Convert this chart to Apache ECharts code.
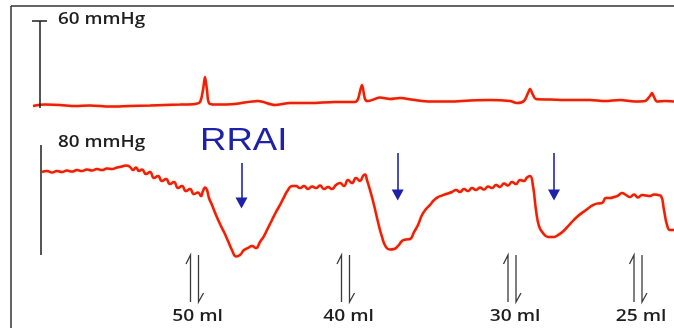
<!DOCTYPE html>
<html>
<head>
<meta charset="utf-8">
<script src="https://cdn.jsdelivr.net/npm/echarts@6/dist/echarts.min.js"></script>
<style>html,body{margin:0;padding:0;background:#fff}#c{width:674px;height:328px}</style>
</head>
<body>
<div id="c"></div>
<script>
// Time (s) and pressure (mmHg)
var topT = [22,34,49,64,79,99,119,139,154,169,184,189,192,194,196,198,204,224,247,264,279,299,324,344,347,351,354,357,369,379,389,404,419,439,459,479,499,506,513,517,519,522,525,539,559,579,594,609,624,634,639,641,643,646,654,663];
var topP = [1.4,2.4,2.1,1.4,1.7,1.0,1.4,1.7,2.1,2.4,2.8,4.1,12.4,21.4,12.4,3.4,2.4,2.8,4.8,2.1,3.4,3.4,4.1,4.1,6.2,15.9,6.2,4.8,7.2,6.2,6.9,5.5,4.5,4.5,5.2,5.5,4.8,3.4,4.8,10.3,13.1,9.0,6.2,5.9,5.5,5.5,4.8,5.5,4.5,4.8,8.3,10.3,7.6,4.5,4.8,4.5];

var botT = [31,36,41,46,51,56,61,66,71,76,81,86,91,96,101,106,111,115,119,122,125,128,131,135,139,143,147,151,155,159,163,167,171,175,179,183,187,190,192,194,196,198,201,205,209,213,217,221,225,229,233,237,241,245,249,253,257,261,265,269,273,277,281,285,289,293,297,301,305,309,313,317,321,325,329,333,337,341,345,349,352,354,356,359,363,367,371,375,379,383,387,391,395,399,403,407,411,415,419,423,427,431,435,441,445,449,453,457,461,465,469,473,477,481,485,489,493,497,501,505,509,513,516,519,522,525,528,532,537,542,547,552,559,567,575,579,583,587,591,595,599,603,607,611,615,619,623,627,631,635,639,643,647,650,653,656,659,663];
var botP = [60.2,60.9,59.8,60.9,60.2,61.3,60.5,61.6,60.9,62.0,61.3,62.4,61.6,62.7,62.4,63.5,64.2,65.0,63.9,61.6,63.5,60.9,62.0,58.7,60.2,55.8,57.2,53.6,55.0,51.4,52.8,48.4,49.9,46.2,47.7,44.0,45.1,42.6,46.2,48.8,47.0,41.1,36.0,28.6,22.0,16.1,9.5,2.9,-1.8,-0.7,2.9,4.4,5.9,4.4,8.8,13.2,19.1,25.0,30.8,36.0,41.8,47.0,49.9,49.9,48.4,49.9,47.7,49.5,48.4,50.3,47.7,49.2,47.7,50.6,52.1,49.9,54.3,52.1,55.8,53.6,57.2,58.3,54.3,47.0,36.0,23.5,12.5,5.1,3.3,3.7,5.9,9.5,10.6,11.0,16.1,21.3,28.6,33.0,36.0,39.6,41.8,42.9,44.0,45.5,47.0,45.5,47.7,46.2,48.4,47.0,48.8,47.3,49.5,48.4,50.6,49.2,51.7,50.3,52.8,51.4,54.3,53.6,56.1,57.2,49.9,32.3,20.5,15.4,12.5,12.5,13.9,16.5,22.0,27.9,32.3,34.5,36.3,37.1,37.4,41.1,41.1,41.8,42.9,44.8,43.3,41.8,43.7,41.5,43.3,42.9,42.6,43.7,43.3,42.6,32.3,21.3,17.6,17.6];

// Scale bars (mmHg)
var scaleTopT = 29, scaleTopValue = 60, scaleTopLabel = '60 mmHg';
var scaleBotT = 30, scaleBotValue = 80, scaleBotLabel = '80 mmHg';

// RRAI arrows (time, from, to in mmHg)
var arrowT = [230.5, 386.7, 543];
var arrowFrom = [66.8, 74.1, 74.1];
var arrowTo = [37.4, 43.3, 43.3];
var annotationText = 'RRAI';

// Injections
var injT = [183.5, 334.5, 501, 627];
var injVolumes = [50, 40, 30, 25];

function zip(a, b) { return a.map(function (v, i) { return [v, b[i]]; }); }

var chart = echarts.init(document.getElementById('c'), null, { renderer: 'canvas' });
var red = '#ee1d12';
var ink = '#1e1e1e';
var blue = '#1e22a8';

chart.setOption({
  animation: false,
  grid: [
    { left: 11, right: 0, top: 21, height: 87 },
    { left: 11, right: 0, top: 145, height: 136.25 }
  ],
  xAxis: [
    { gridIndex: 0, type: 'value', min: 0, max: 663, show: false },
    { gridIndex: 1, type: 'value', min: 0, max: 663, show: false }
  ],
  yAxis: [
    { gridIndex: 0, type: 'value', min: 0, max: 60, show: false },
    { gridIndex: 1, type: 'value', min: -20, max: 80, show: false }
  ],
  graphic: [
    { type: 'line', shape: { x1: 11, y1: 6, x2: 674, y2: 6 }, style: { stroke: '#333', lineWidth: 1.5 } },
    { type: 'line', shape: { x1: 11, y1: 6, x2: 11, y2: 328 }, style: { stroke: '#333', lineWidth: 1.5 } },
    { type: 'text', x: 58, y: 19, scaleX: 1.18, style: { text: scaleTopLabel, font: '600 16px "Open Sans"', fill: ink, textVerticalAlign: 'middle' } },
    { type: 'text', x: 58, y: 142, scaleX: 1.18, style: { text: scaleBotLabel, font: '600 16px "Open Sans"', fill: ink, textVerticalAlign: 'middle' } },
    { type: 'text', x: 200, y: 141, scaleX: 1.18, style: { text: annotationText, font: '31px "Liberation Sans"', fill: blue, textVerticalAlign: 'middle' } }
  ],
  series: [
    {
      type: 'line', xAxisIndex: 0, yAxisIndex: 0, data: zip(topT, topP),
      showSymbol: false, smooth: 0.3, clip: false,
      lineStyle: { color: red, width: 2.5, shadowColor: 'rgba(255,170,0,0.45)', shadowBlur: 2 }
    },
    {
      type: 'line', xAxisIndex: 1, yAxisIndex: 1, data: zip(botT, botP),
      showSymbol: false, smooth: 0.5, clip: false,
      lineStyle: { color: red, width: 2.5, shadowColor: 'rgba(255,170,0,0.45)', shadowBlur: 2 },
      markLine: {
        silent: true, symbol: ['none', 'triangle'], symbolSize: [12, 11],
        label: { show: false },
        lineStyle: { color: blue, width: 1.6, type: 'solid', shadowBlur: 0 },
        data: arrowT.map(function (t, i) { return [{ coord: [t, arrowFrom[i]] }, { coord: [t, arrowTo[i]] }]; })
      }
    },
    {
      type: 'line', xAxisIndex: 0, yAxisIndex: 0,
      data: [[scaleTopT, 0], [scaleTopT, scaleTopValue], [scaleTopT - 8, scaleTopValue], [scaleTopT + 7, scaleTopValue]],
      showSymbol: false, clip: false, lineStyle: { color: ink, width: 1.5 }
    },
    {
      type: 'line', xAxisIndex: 1, yAxisIndex: 1,
      data: [[scaleBotT, -0.8], [scaleBotT, scaleBotValue]],
      showSymbol: false, clip: false, lineStyle: { color: ink, width: 1.5 }
    },
    {
      type: 'custom', xAxisIndex: 1, yAxisIndex: 1, clip: false,
      data: injT.map(function (t) { return [t, 0]; }),
      renderItem: function (params, api) {
        var p = api.coord([api.value(0), 0]);
        var x = p[0], y0 = p[1];
        var st = { stroke: '#3a3a3a', lineWidth: 1.3, fill: null };
        return {
          type: 'group',
          children: [
            { type: 'polyline', shape: { points: [[x - 8.5, y0 + 10], [x - 4, y0 + 1], [x - 4, y0 + 48]] }, style: st },
            { type: 'polyline', shape: { points: [[x + 4, y0 + 1], [x + 4, y0 + 48], [x + 9, y0 + 39]] }, style: st },
            { type: 'text', x: x + 3, y: y0 + 62, scaleX: 1.2,
              style: { text: injVolumes[params.dataIndex] + ' ml', font: '600 16px "Open Sans"', fill: ink, textAlign: 'center', textVerticalAlign: 'middle' } }
          ]
        };
      }
    }
  ]
});
</script>
</body>
</html>
